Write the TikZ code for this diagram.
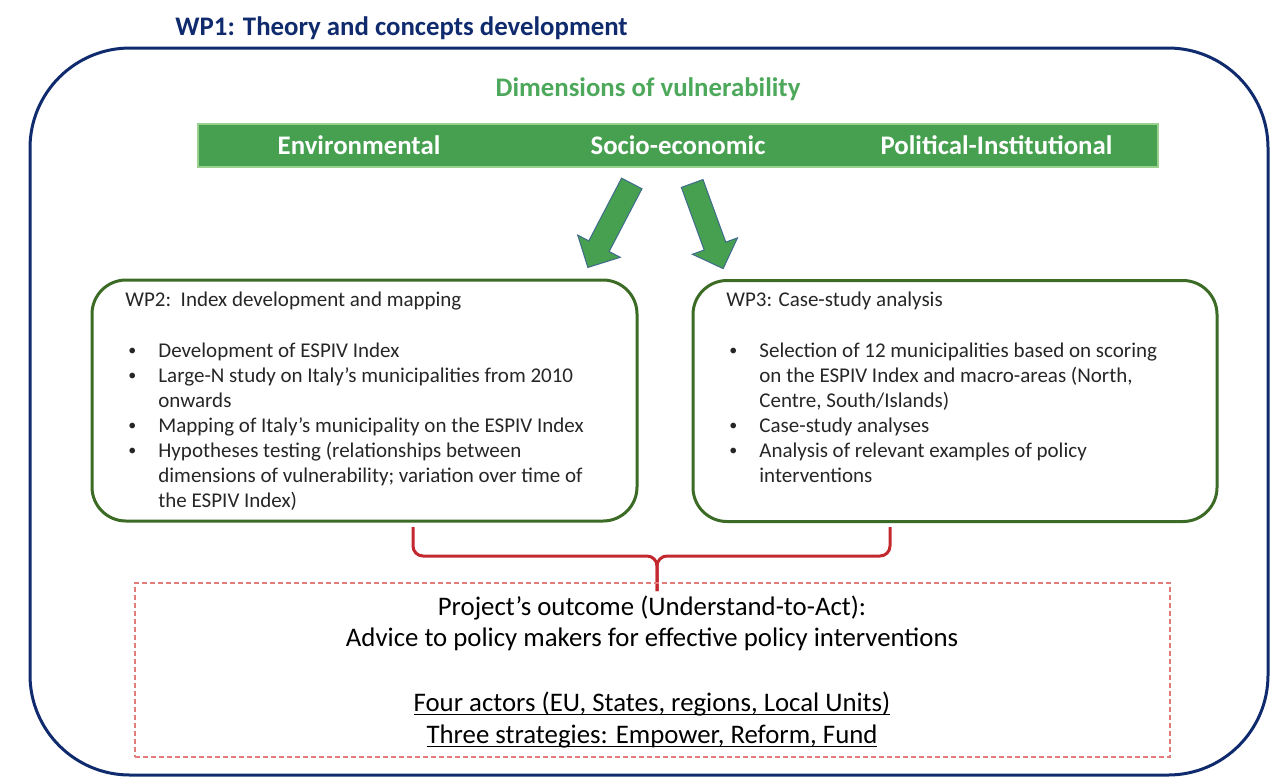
\documentclass[tikz,border=0pt]{standalone}
\usepackage{fontspec}
\setmainfont{Carlito}
\usetikzlibrary{shapes.arrows}
\definecolor{navy}{HTML}{0F2B6E}
\definecolor{dimgreen}{HTML}{4DA85B}
\definecolor{bargreen}{HTML}{46A050}
\definecolor{barline}{HTML}{9BD08E}
\definecolor{arrline}{HTML}{3F6B8C}
\definecolor{wpgreen}{HTML}{3C6B25}
\definecolor{bracered}{HTML}{C3282E}
\definecolor{dashred}{HTML}{E37B7B}
\definecolor{txtgray}{HTML}{262626}
\newcommand{\itm}{\makebox[16.5pt][l]{\hspace{1.5pt}\raisebox{0.9pt}{\fontsize{8}{8}\selectfont\textbullet}}}
\newcommand{\cnt}{\hspace*{16.5pt}}
\newcommand{\undl}[1]{\underline{\smash{#1}}}

\begin{document}
\begin{tikzpicture}[x=0.5pt, y=-0.5pt,
    head/.style={font=\fontsize{13.4}{16}\selectfont\bfseries, inner sep=0pt},
    wp/.style={draw=wpgreen, line width=1.5pt, rounded corners=17pt, minimum height=120.5pt},
    body/.style={align=left, inner sep=0pt, anchor=north west, text=txtgray,
        font=\fontsize{10.5}{12.55}\selectfont},
    arr/.style={single arrow, fill=bargreen, draw=arrline, line width=0.5pt, inner xsep=0pt,
        inner ysep=5.5pt, minimum width=23.5pt, single arrow head extend=6.25pt, anchor=tail},
    brace/.style={draw=bracered, line width=1.5pt, rounded corners=5pt}]

    \useasboundingbox (0,0) rectangle (1283,778);

    \node[draw=navy, line width=1.5pt, rounded corners=50pt, minimum width=619pt,
        minimum height=363.5pt] (wp1) at (649,411.5) {};
    \node[head, text=navy, anchor=base west] (wp1lab) at (175,35.5) {WP1: Theory and concepts development};

    \node[head, text=dimgreen, anchor=base] (dim) at (648,96) {Dimensions of vulnerability};
    \node[fill=bargreen, draw=barline, line width=0.75pt, minimum width=480pt,
        minimum height=21.5pt] (bar) at (678,145.5) {};
    \node[head, text=white, anchor=base] (env) at (359,154.5) {Environmental};
    \node[head, text=white, anchor=base] (soc) at (678,154.5) {Socio-economic};
    \node[head, text=white, anchor=base] (pol) at (996.5,154.5) {Political-Institutional};

    \node[arr, minimum height=47.4pt, rotate=242.4] (a2) at (632,183) {};
    \node[arr, minimum height=45.3pt, rotate=290] (a3) at (692,183) {};

    \node[wp, minimum width=272.5pt] (wp2) at (364.5,400.5) {};
    \node[wp, minimum width=262pt] (wp3) at (955,401) {};

    \node[body] (wp2txt) at (125,292) {WP2:\ \ Index development and mapping\\[12.55pt]
        \itm Development of ESPIV Index\\
        \itm Large-N study on Italy’s municipalities from 2010\\
        \cnt onwards\\
        \itm Mapping of Italy’s municipality on the ESPIV Index\\
        \itm Hypotheses testing (relationships between\\
        \cnt dimensions of vulnerability; variation over time of\\
        \cnt the ESPIV Index)};
    \node[body] (wp3txt) at (726,292) {WP3: Case-study analysis\\[12.55pt]
        \itm Selection of 12 municipalities based on scoring\\
        \cnt on the ESPIV Index and macro-areas (North,\\
        \cnt Centre, South/Islands)\\
        \itm Case-study analyses\\
        \itm Analysis of relevant examples of policy\\
        \cnt interventions};

    \coordinate (b2) at (413,527);
    \coordinate (b3) at (890,527);
    \coordinate (bm) at (657,556);
    \coordinate (btip) at (657,591);
    \draw[brace] (b2) |- (bm) -- (btip);
    \draw[brace] (b3) |- (bm) -- (btip);

    \node[draw=dashred, dash pattern=on 2.5pt off 1.5pt, line width=0.75pt, minimum width=517.5pt,
        minimum height=87pt] (out) at (652.5,670) {};
    \node[align=center, inner sep=0pt, anchor=north, font=\fontsize{13.4}{15.7}\selectfont]
        (outtxt) at (652,595) {Project’s outcome (Understand-to-Act):\\
        Advice to policy makers for effective policy interventions\\[17pt]
        \undl{Four actors (EU, States, regions, Local Units)}\\
        \undl{Three strategies: Empower, Reform, Fund}};
\end{tikzpicture}
\end{document}
